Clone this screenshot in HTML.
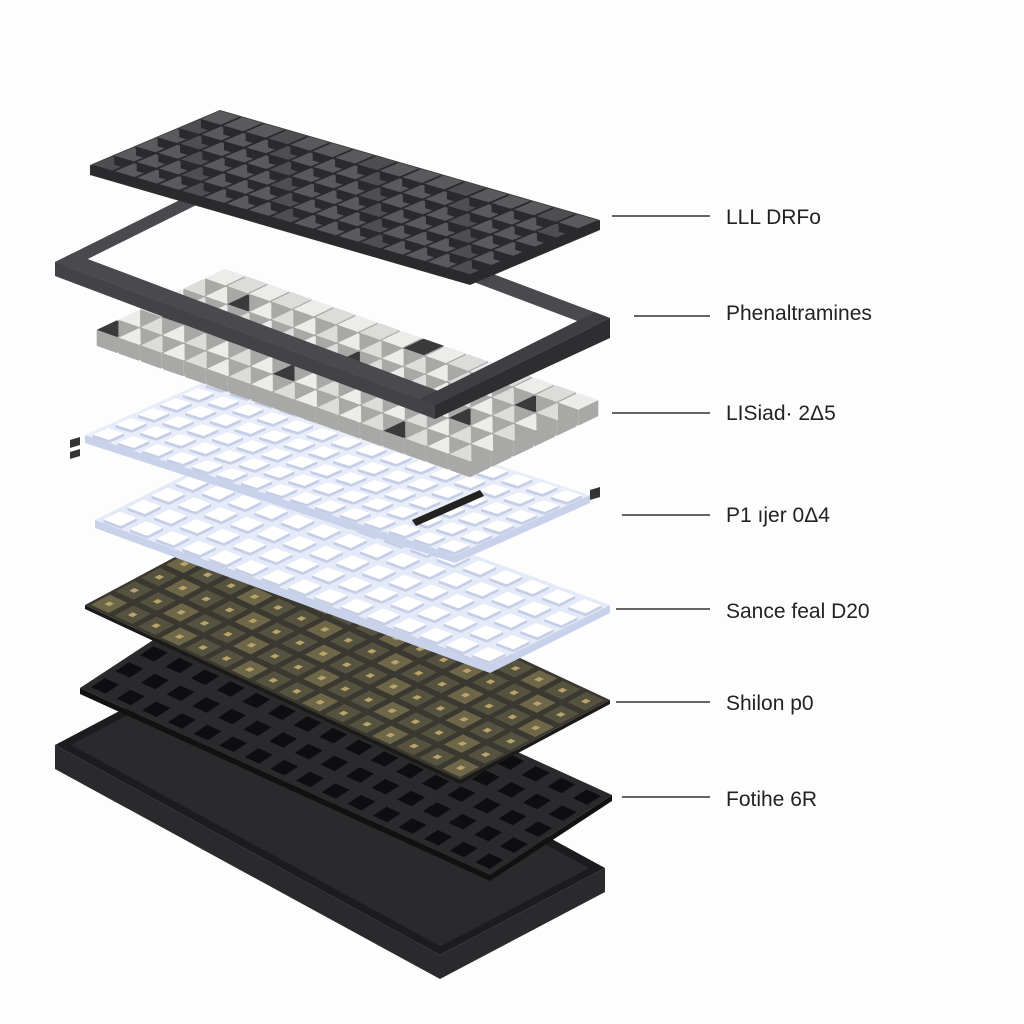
<!DOCTYPE html>
<html><head><meta charset="utf-8"><style>
html,body{margin:0;padding:0;background:#fff;}
svg{display:block}
text{font-family:"Liberation Sans",sans-serif;font-size:21px;fill:#222;}
</style></head><body>
<svg id="s" width="1024" height="1024" viewBox="0 0 1024 1024" xmlns="http://www.w3.org/2000/svg">
<rect width="1024" height="1024" fill="#fdfdfd"/>
<g id="g"></g>
<g stroke="#333" stroke-width="1.5">
<line x1="612" y1="216" x2="710" y2="216"/>
<line x1="634" y1="316" x2="710" y2="316"/>
<line x1="612" y1="413" x2="710" y2="413"/>
<line x1="622" y1="515" x2="710" y2="515"/>
<line x1="616" y1="609" x2="710" y2="609"/>
<line x1="616" y1="702" x2="710" y2="702"/>
<line x1="622" y1="797" x2="710" y2="797"/>
</g>
<text x="726" y="224">LLL DRFo</text>
<text x="726" y="320">Phenaltramines</text>
<text x="726" y="420">LISiad· 2Δ5</text>
<text x="726" y="522">P1 ıjer 0Δ4</text>
<text x="726" y="618">Sance feal D20</text>
<text x="726" y="710">Shilon p0</text>
<text x="726" y="806">Fotihe 6R</text>
</svg>
<script>
const g=document.getElementById('g');const NS='http://www.w3.org/2000/svg';
function poly(pts,fill,stroke,sw,op){const p=document.createElementNS(NS,'polygon');p.setAttribute('points',pts.map(a=>a[0].toFixed(1)+','+a[1].toFixed(1)).join(' '));p.setAttribute('fill',fill);if(stroke){p.setAttribute('stroke',stroke);p.setAttribute('stroke-width',sw||1);}if(op)p.setAttribute('opacity',op);g.appendChild(p);}
function P(L,F,R,u,v){const B=[L[0]+R[0]-F[0],L[1]+R[1]-F[1]];
return [L[0]+u*(F[0]-L[0])+v*(B[0]-L[0]), L[1]+u*(F[1]-L[1])+v*(B[1]-L[1])];}
function slab(L,F,R,t,top,side){const B=[L[0]+R[0]-F[0],L[1]+R[1]-F[1]];
poly([L,F,[F[0],F[1]+t],[L[0],L[1]+t]],side);poly([F,R,[R[0],R[1]+t],[F[0],F[1]+t]],side);poly([L,F,R,B],top);}
function cells(L,F,R,nu,nv,m,fill,stroke,h,ex){for(let i=0;i<nu;i++)for(let j=0;j<nv;j++){if(ex&&ex(i,j))continue;const u0=(i+m)/nu,u1=(i+1-m)/nu,v0=(j+m)/nv,v1=(j+1-m)/nv;
const a=P(L,F,R,u0,v0),b=P(L,F,R,u1,v0),c=P(L,F,R,u1,v1),d=P(L,F,R,u0,v1);
if(h){poly([a,b,[b[0],b[1]+h],[a[0],a[1]+h]],stroke);poly([b,c,[c[0],c[1]+h],[b[0],b[1]+h]],stroke);}
poly([a,b,c,d],typeof fill=='function'?fill(i,j):fill);}}
// case
let L=[55,745],F=[440,955],R=[605,868];
slab(L,F,R,24,'#1c1c1e','#2a2a2c');
poly([P(L,F,R,.02,.05),P(L,F,R,.98,.05),P(L,F,R,.98,.95),P(L,F,R,.02,.95)],'#2a2a2d');
// foam
L=[80,688];F=[490,875];R=[612,795];
slab(L,F,R,6,'#2a2a2c','#111');
cells(L,F,R,16,5,.22,'#0e0e10',null,0);
// pcb
L=[85,605];F=[460,780];R=[610,700];
slab(L,F,R,4,'#3a3830','#1a1a18');
cells(L,F,R,16,6,.12,(i,j)=>(i+j)%3?'#55523f':'#6d6648','#222',0);
cells(L,F,R,16,6,.4,'#b8a36a',null,0);
// plate 2
L=[95,520];F=[490,665];R=[610,605];
slab(L,F,R,8,'#e4eaf8','#c8d2ea');
cells(L,F,R,15,5,.17,'#ffffff','#c5cee6',3);
// plate 1
L=[85,435];F=[455,555];R=[590,495];
slab(L,F,R,8,'#e8edf9','#c8d2ea');
cells(L,F,R,15,6,.17,'#ffffff','#c5cee6',3);
// switches
L=[95,330];F=[470,462];R=[600,400];
cells(L,F,R,17,6,.04,(i,j)=>(i*7+j*3)%13==0?'#3a3a3a':((i+j)%2?'#ececea':'#dcdcda'),'#a8a8a6',16);
// frame
L=[55,262];F=[435,405];R=[610,318];
{poly([L,F,[F[0],F[1]+8],[L[0],L[1]+8]],'#3c3c40');
poly([P(L,F,R,0,0),P(L,F,R,1,0),P(L,F,R,1,.1),P(L,F,R,0,.1)],'#4a4a4e');
poly([P(L,F,R,0,.9),P(L,F,R,1,.9),P(L,F,R,1,1),P(L,F,R,0,1)],'#4a4a4e');
poly([P(L,F,R,0,0),P(L,F,R,.04,0),P(L,F,R,.04,1),P(L,F,R,0,1)],'#4a4a4e');
poly([P(L,F,R,.96,0),P(L,F,R,1,0),P(L,F,R,1,1),P(L,F,R,.96,1)],'#3f3f43');
poly([L,F,[F[0],F[1]+14],[L[0],L[1]+14]],'#434347');
poly([F,R,[R[0],R[1]+20],[F[0],F[1]+14]],'#2e2e31');}
// keycaps
L=[90,165];F=[470,275];R=[600,220];
slab(L,F,R,10,'#3e3e40','#2c2c2e');
cells(L,F,R,17,6,.06,(i,j)=>(i+j)%4?'#5a5a5d':'#4e4e51','#2a2a2c',9);
// small parts
poly([[70,440],[80,437],[80,445],[70,448]],'#333');poly([[70,452],[80,449],[80,456],[70,459]],'#333');
poly([[412,520],[480,490],[484,496],[416,526]],'#222');
poly([[590,490],[600,487],[600,497],[590,500]],'#333');
</script>
</body></html>
